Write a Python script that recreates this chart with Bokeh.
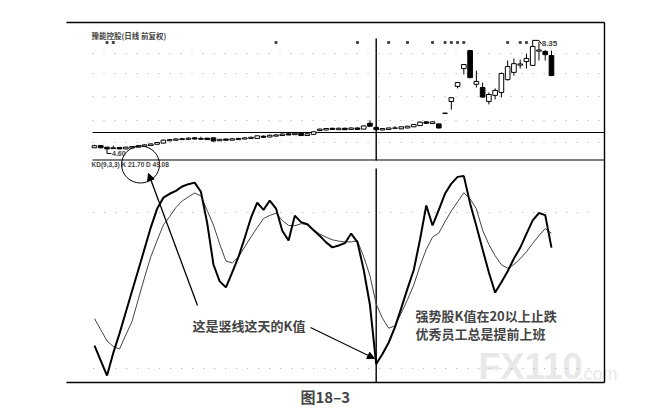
from bokeh.plotting import figure
from bokeh.models import Range1d, Label, Arrow, NormalHead
from bokeh.embed import file_html
from bokeh.resources import INLINE

# ---------------- data ----------------
days = list(range(74))
open_ = [4.66, 4.74, 4.68, 4.63, 4.67, 4.62, 4.65, 4.68, 4.71, 4.74,
         4.78, 4.82, 4.90, 4.92, 4.94, 4.95, 5.00, 4.95, 4.99, 5.00,
         4.90, 4.96, 4.92, 4.94, 4.96, 4.98, 4.98, 5.06, 5.03, 5.06,
         5.08, 5.14, 5.11, 5.16, 5.08, 5.12, 5.25, 5.27, 5.33, 5.28,
         5.33, 5.29, 5.34, 5.30, 5.50, 5.36, 5.27, 5.29, 5.33, 5.31,
         5.34, 5.38, 5.42, 5.55, 5.49, 5.48, 5.84, 6.25, 6.77, 7.38,
         8.00, 6.84, 6.73, 6.25, 6.46, 6.56, 7.00, 7.25, 7.50, 7.62,
         7.49, 7.98, 7.97, 7.83]
high = [4.76, 4.75, 4.69, 4.73, 4.68, 4.70, 4.72, 4.75, 4.78, 4.81,
        4.86, 4.94, 4.96, 4.99, 5.00, 5.02, 5.02, 5.04, 5.00, 5.01,
        4.96, 4.97, 4.98, 5.00, 5.02, 5.04, 5.08, 5.08, 5.11, 5.12,
        5.15, 5.16, 5.18, 5.17, 5.16, 5.22, 5.32, 5.34, 5.34, 5.35,
        5.35, 5.36, 5.36, 5.42, 5.60, 5.37, 5.33, 5.35, 5.40, 5.39,
        5.41, 5.47, 5.56, 5.57, 5.57, 5.49, 5.86, 6.40, 6.92, 7.54,
        8.02, 7.31, 6.90, 6.56, 6.70, 7.25, 7.66, 7.73, 7.69, 7.90,
        8.35, 8.30, 8.02, 8.00]
low = [4.65, 4.64, 4.60, 4.62, 4.61, 4.61, 4.64, 4.67, 4.70, 4.73,
       4.77, 4.81, 4.89, 4.91, 4.93, 4.94, 4.95, 4.94, 4.93, 4.88,
       4.89, 4.90, 4.91, 4.93, 4.95, 4.97, 4.97, 5.00, 5.02, 5.05,
       5.07, 5.09, 5.10, 5.07, 5.07, 5.11, 5.24, 5.26, 5.27, 5.27,
       5.27, 5.28, 5.28, 5.29, 5.38, 5.26, 5.26, 5.28, 5.30, 5.30,
       5.33, 5.37, 5.41, 5.48, 5.48, 5.32, 5.83, 5.97, 6.70, 7.18,
       7.05, 6.73, 6.39, 6.15, 6.32, 6.39, 6.97, 7.14, 7.38, 7.38,
       7.47, 7.66, 7.66, 7.14]
close = [4.73, 4.66, 4.62, 4.66, 4.62, 4.68, 4.70, 4.73, 4.76, 4.79,
         4.84, 4.92, 4.94, 4.96, 4.97, 4.99, 4.96, 4.98, 4.94, 4.89,
         4.95, 4.92, 4.97, 4.98, 5.00, 5.02, 5.07, 5.02, 5.09, 5.10,
         5.13, 5.10, 5.16, 5.08, 5.14, 5.21, 5.30, 5.32, 5.29, 5.33,
         5.28, 5.34, 5.29, 5.41, 5.40, 5.28, 5.32, 5.34, 5.34, 5.38,
         5.40, 5.46, 5.54, 5.50, 5.55, 5.34, 5.85, 6.38, 6.90, 7.52,
         7.07, 6.94, 6.40, 6.49, 6.63, 7.21, 7.45, 7.55, 7.54, 7.73,
         8.14, 8.02, 7.86, 7.14]
k_values = [28.8, 23.0, 17.3, 26.0, 33.5, 41.6, 49.8, 57.9, 66.1, 74.3,
            81.4, 85.7, 87.2, 88.3, 90.0, 90.9, 91.5, 88.0, 76.0, 60.0,
            53.5, 51.2, 57.0, 62.9, 70.3, 78.0, 83.8, 81.0, 84.6, 81.5,
            73.0, 69.2, 78.8, 76.3, 75.5, 73.2, 71.0, 68.5, 66.6, 67.3,
            68.2, 71.9, 68.6, 58.0, 44.5, 21.7, 25.6, 30.0, 35.9, 43.2,
            50.7, 57.9, 69.6, 82.7, 75.0, 81.0, 87.3, 91.1, 93.7, 94.0,
            83.5, 74.8, 65.8, 56.9, 49.2, 53.2, 57.4, 62.3, 66.4, 71.8,
            77.0, 79.8, 79.0, 66.5]
d_values = [39.2, 34.9, 30.6, 28.5, 27.5, 32.9, 38.1, 46.6, 55.1, 63.0,
            69.2, 75.2, 78.4, 81.9, 84.4, 86.0, 87.5, 86.4, 80.8, 75.2,
            67.9, 61.3, 60.6, 62.9, 66.8, 70.6, 74.2, 77.7, 78.9, 79.7,
            77.0, 75.0, 74.9, 75.7, 75.4, 73.4, 71.7, 70.5, 69.5, 69.0,
            68.7, 68.7, 69.1, 63.0, 55.7, 44.8, 39.3, 35.5, 36.4, 41.3,
            46.5, 52.1, 59.5, 65.8, 70.5, 72.1, 76.5, 80.6, 84.1, 87.6,
            85.2, 81.4, 73.2, 67.7, 63.4, 59.9, 58.6, 60.0, 62.2, 64.9,
            68.1, 71.1, 73.8, 72.0]
marker_days = [2, 3, 29, 42, 47, 50, 54, 56, 57, 58, 59, 66, 68, 69]
kd_levels = [80, 20]
cursor_day = 45
high_day, high_label = 70, "8.35"
low_day, low_label = 2, "4.60"
title_text = "豫能控股(日线 前复权)"
kd_text = "KD(9,3,3) K 21.70 D 49.08"
note1 = "这是竖线这天的K值"
note2a = "强势股K值在20以上止跌"
note2b = "优秀员工总是提前上班"
caption = "图18–3"

# ---------------- layout constants (window pixels) ----------------
W, H = 656, 412
X0, DX = 94.0, 6.26          # window x of day 0, px per day
PY0, PK = 149.0, 29.1        # window y of price 4.6, px per price unit
KY0, KK = 420.0, 2.6         # window y of K=0, px per K unit

x_days = Range1d((0 - X0) / DX, (W - X0) / DX)
y_price = Range1d(4.6 - (H - PY0) / PK, 4.6 + PY0 / PK)

p = figure(width=W, height=H, x_range=x_days, y_range=y_price,
           output_backend="svg", toolbar_location=None, min_border=0,
           x_axis_location=None, y_axis_location=None,
           outline_line_color=None, background_fill_color="white",
           border_fill_color="white")
p.xgrid.visible = False
p.ygrid.visible = False
p.extra_x_ranges = {"pg": Range1d(0, W)}
p.extra_y_ranges = {"pg": Range1d(H, 0),
                    "kd": Range1d((KY0 - H) / KK, KY0 / KK)}

CJK = "Noto Sans CJK SC"

# watermark
p.add_layout(Label(x=478, y=386, x_range_name="pg", y_range_name="pg",
                   text="FX110", text_font="Liberation Sans", text_font_size="36px",
                   text_font_style="bold", text_color="#e8e8e8",
                   text_baseline="bottom", level="underlay"))
p.add_layout(Label(x=578, y=383, x_range_name="pg", y_range_name="pg",
                   text=".com", text_font="Liberation Sans", text_font_size="18px",
                   text_color="#e8e8e8", text_baseline="bottom", level="underlay"))

# dotted rows
for yy in [53, 73, 96, 120, 142]:
    p.segment(x0=[92], y0=[yy], x1=[600], y1=[yy], x_range_name="pg", y_range_name="pg",
              line_color="#aaaaaa", line_width=1, line_dash="1 10")
p.segment(x0=[days[0] - 0.2] * len(kd_levels), y0=kd_levels,
          x1=[days[-1] + 7] * len(kd_levels), y1=kd_levels, y_range_name="kd",
          line_color="#aaaaaa", line_width=1, line_dash="1 10")

# frame lines
p.segment(x0=[66, 66], y0=[22, 382], x1=[604, 604], y1=[22, 382],
          x_range_name="pg", y_range_name="pg", line_color="black", line_width=1.6)
p.segment(x0=[604], y0=[22], x1=[604], y1=[382],
          x_range_name="pg", y_range_name="pg", line_color="black", line_width=1.4)
p.segment(x0=[92, 92], y0=[132, 159.5], x1=[604, 604], y1=[132, 159.5],
          x_range_name="pg", y_range_name="pg", line_color="black", line_width=1.2)
# cursor line
p.segment(x0=[cursor_day, cursor_day], y0=[38, 168], x1=[cursor_day, cursor_day], y1=[160, 382],
          y_range_name="pg", line_color="black", line_width=1.4)

# event markers
p.scatter(x=marker_days, y=[42] * len(marker_days), y_range_name="pg",
          marker="square", size=2, color="#444444")

# candles
up = [c >= o for o, c in zip(open_, close)]
top = [max(o, c) for o, c in zip(open_, close)]
bot = [min(o, c) for o, c in zip(open_, close)]
p.segment(x0=days, y0=low, x1=days, y1=high, line_color="black", line_width=1)
p.vbar(x=days, width=0.74, top=top, bottom=bot,
       fill_color=["white" if u else "black" for u in up],
       line_color="black", line_width=1)

# high / low labels
p.segment(x0=[high_day, high_day + 1.0], y0=[float(high_label)] * 2,
          x1=[high_day + 1.0, high_day + 1.4], y1=[float(high_label), float(high_label) - 0.12],
          line_color="black", line_width=1)
p.add_layout(Label(x=high_day, y=float(high_label), text=high_label, x_offset=9, y_offset=-3,
                   text_font="Liberation Sans", text_font_size="8px", text_font_style="bold",
                   text_baseline="middle"))
p.segment(x0=[low_day, low_day], y0=[float(low_label), float(low_label) - 0.14],
          x1=[low_day, low_day + 0.7], y1=[float(low_label) - 0.14] * 2,
          line_color="black", line_width=1)
p.add_layout(Label(x=low_day, y=float(low_label) - 0.14, text=low_label, x_offset=5,
                   text_font="Liberation Sans", text_font_size="7px", text_font_style="bold",
                   text_baseline="middle"))

# KD lines
p.line(days, d_values, y_range_name="kd", line_color="#444444", line_width=1)
p.line(days, k_values, y_range_name="kd", line_color="black", line_width=2)

# texts
p.add_layout(Label(x=91, y=35, x_range_name="pg", y_range_name="pg", text=title_text,
                   text_font=CJK, text_font_size="7.5px", text_font_style="bold",
                   text_baseline="middle"))
p.add_layout(Label(x=91, y=164, x_range_name="pg", y_range_name="pg", text=kd_text,
                   text_font="Liberation Sans", text_font_size="6.5px", text_font_style="bold",
                   text_baseline="middle"))
p.add_layout(Label(x=192, y=325, x_range_name="pg", y_range_name="pg", text=note1,
                   text_font=CJK, text_font_size="13px", text_font_style="bold",
                   text_baseline="middle"))
p.add_layout(Label(x=415, y=315, x_range_name="pg", y_range_name="pg", text=note2a,
                   text_font=CJK, text_font_size="13px", text_font_style="bold",
                   text_baseline="middle"))
p.add_layout(Label(x=415, y=333, x_range_name="pg", y_range_name="pg", text=note2b,
                   text_font=CJK, text_font_size="13px", text_font_style="bold",
                   text_baseline="middle"))
p.add_layout(Label(x=300, y=396, x_range_name="pg", y_range_name="pg", text=caption,
                   text_font=CJK, text_font_size="15px", text_font_style="bold",
                   text_baseline="middle"))

# circle + arrows
p.ellipse(x=[140], y=[164], width=[38], height=[37], x_range_name="pg", y_range_name="pg",
          fill_color=None, line_color="black", line_width=1)
p.add_layout(Arrow(x_start=197, y_start=305, x_end=148, y_end=173,
                   x_range_name="pg", y_range_name="pg", line_width=1.3,
                   end=NormalHead(size=7, fill_color="black", line_color="black")))
p.add_layout(Arrow(x_start=310, y_start=327, x_end=374, y_end=358,
                   x_range_name="pg", y_range_name="pg", line_width=1.1,
                   end=NormalHead(size=7, fill_color="black", line_color="black")))

open("out.html", "w").write(file_html(p, INLINE))
